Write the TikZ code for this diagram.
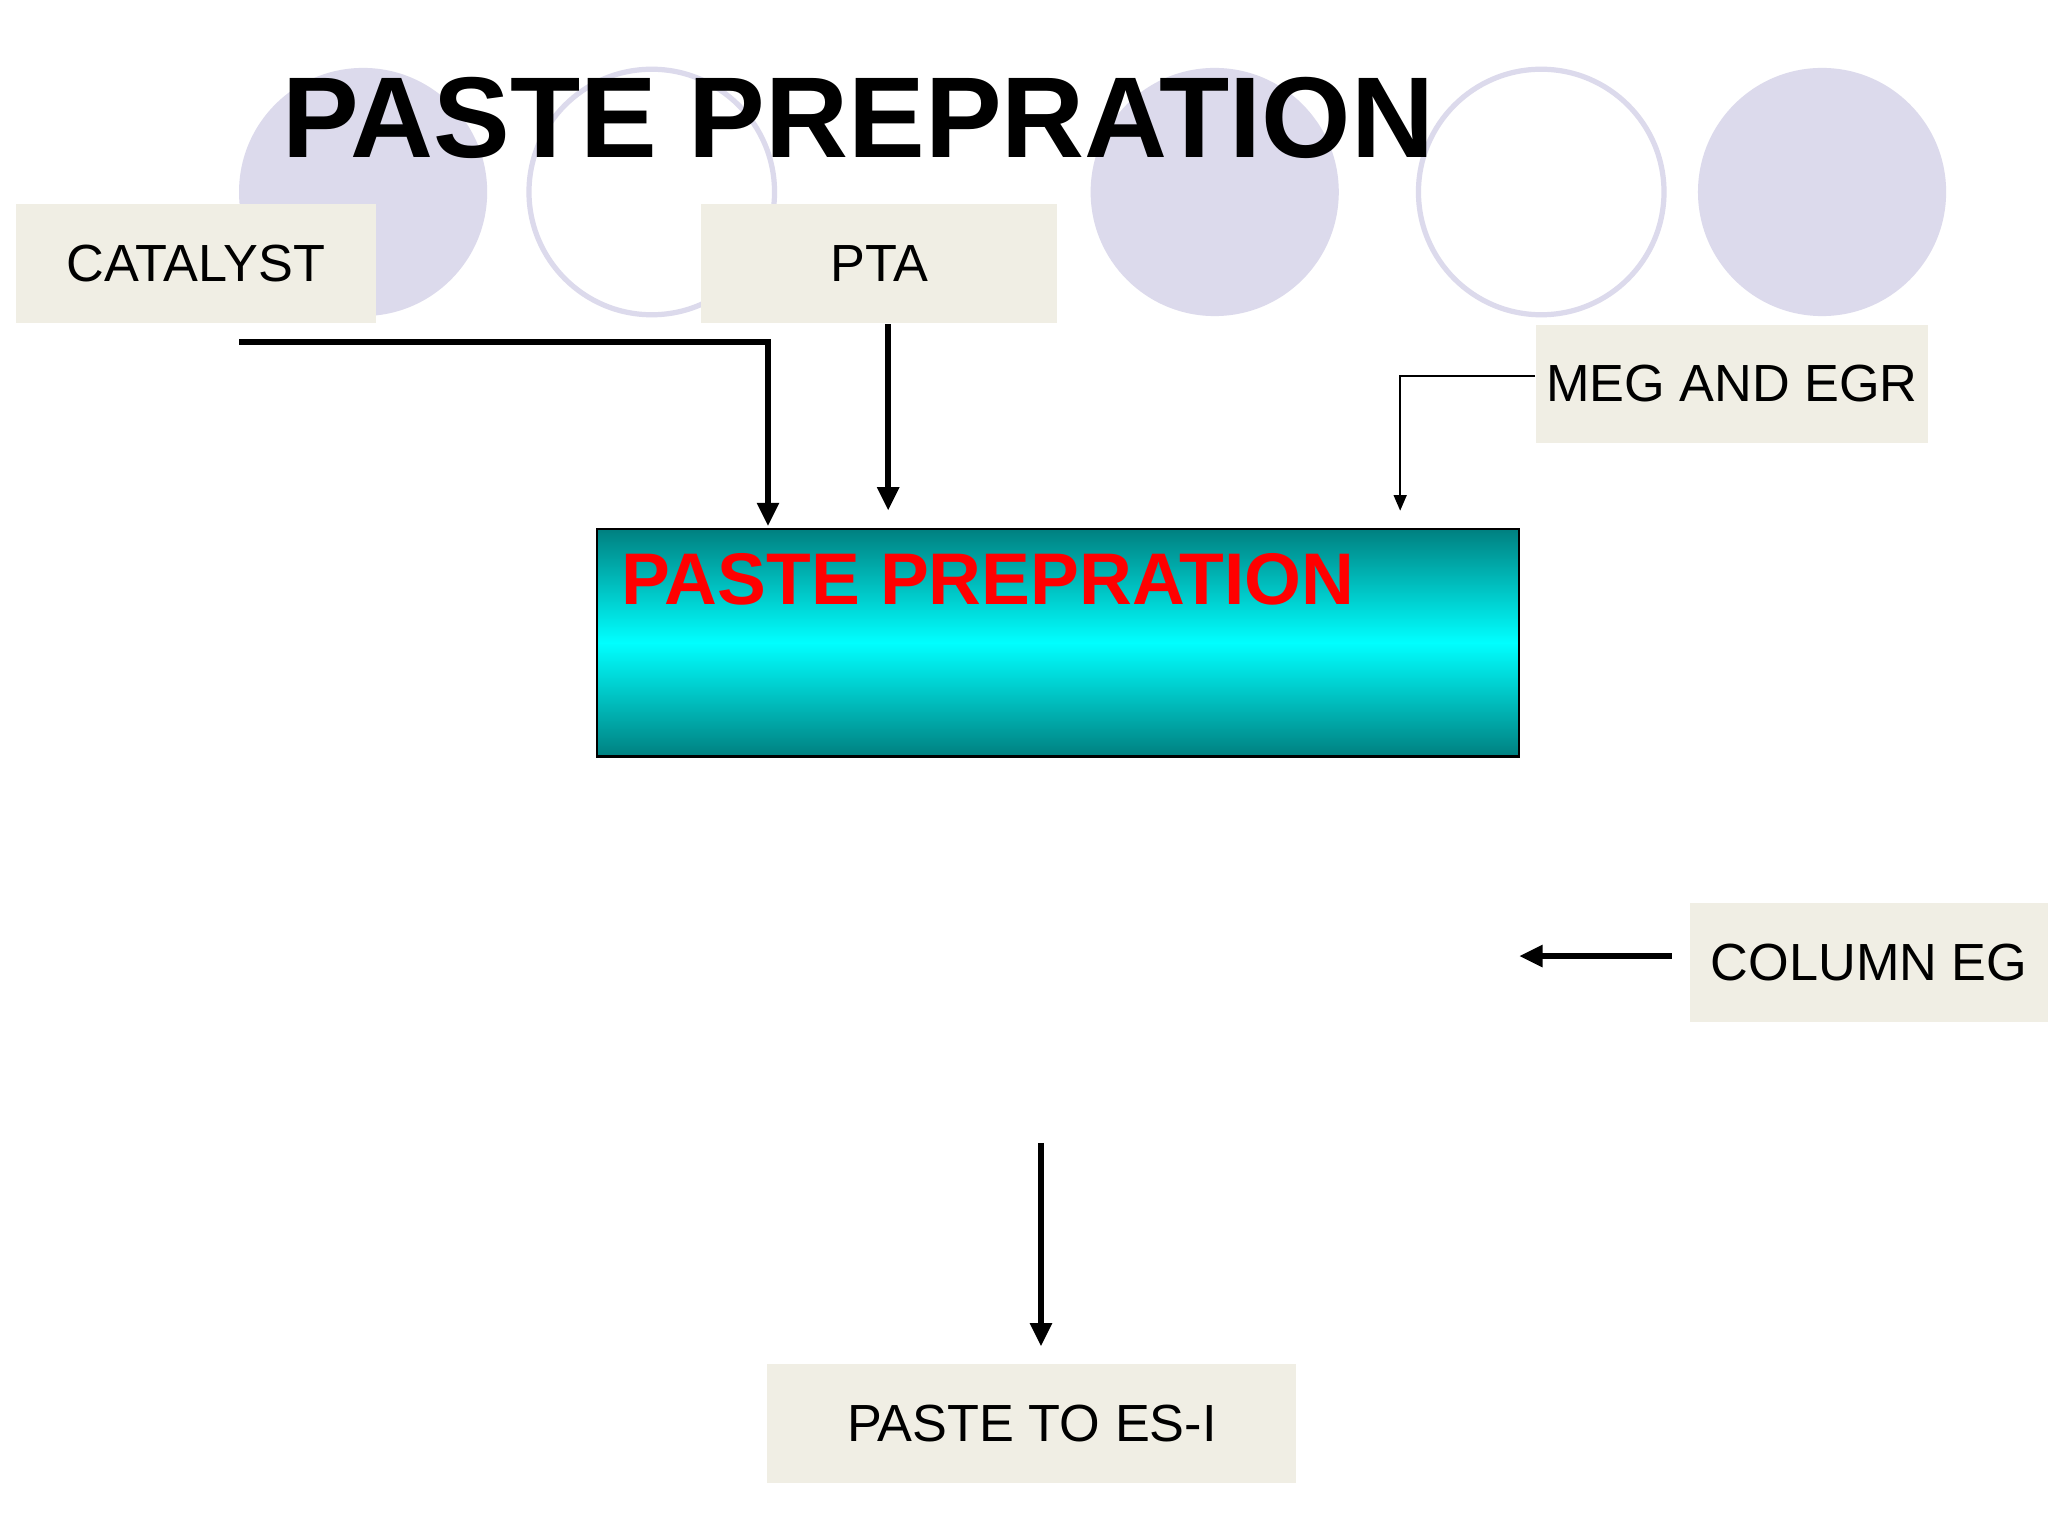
\documentclass[tikz,border=0pt]{standalone}
\usepackage{fontspec}
\setmainfont{Liberation Sans}
\usetikzlibrary{arrows.meta}
\definecolor{lavender}{RGB}{220,218,236}
\definecolor{boxfill}{RGB}{240,238,228}
\definecolor{tealdark}{RGB}{0,128,128}
\tikzset{every picture/.style={line width=0.75pt}}
\begin{document}
\begin{tikzpicture}[x=0.5pt,y=-0.5pt,
  label box/.style={fill=boxfill, draw=none, minimum height=45.5pt, font=\fontsize{20}{24}\selectfont},
  flow/.style={line width=2.5pt, -{Triangle[length=9pt,width=8pt]}},
  thin flow/.style={line width=0.6pt, -{Triangle[length=6pt,width=5pt]}}]
\useasboundingbox (0,0) rectangle (1568,1176);
\fill[white] (0,0) rectangle (1568,1176);

% circles
\fill[lavender] (278,147) circle (95);
\draw[lavender, line width=2pt] (499,147) circle (94);
\fill[lavender] (930,147) circle (95);
\draw[lavender, line width=2pt] (1180,147) circle (94);
\fill[lavender] (1395,147) circle (95);

% title
\node (title) at (657,90) {\fontsize{44}{50}\selectfont\bfseries PASTE PREPRATION};

% boxes
\node[label box, minimum width=137.5pt] (catalyst) at (150,202) {CATALYST};
\node[label box, minimum width=136.5pt] (pta) at (673,202) {PTA};
\node[label box, minimum width=150pt] (meg) at (1326,294) {MEG AND EGR};
\node[label box, minimum width=137pt] (column) at (1431,737) {COLUMN EG};
\node[label box, minimum width=202.5pt] (paste) at (790,1090) {PASTE TO ES-I};

% main box
\shade[top color=tealdark, bottom color=tealdark, middle color=cyan] (457,405) rectangle (1163,579);
\draw[line width=1pt] (457,405) rectangle (1163,579);
\node[anchor=base west, text=red, inner sep=0pt] (main) at (475,463) {\fontsize{28}{32}\selectfont\bfseries PASTE PREPRATION};

% connectors
\coordinate (c1) at (183,262);
\coordinate (c2) at (588,262);
\coordinate (c3) at (588,403);
\draw[flow] (c1) -- (c2) -- (c3);
\draw[flow] (pta.south -| 680,0) -- (680,391);
\coordinate (m1) at (1072,288);
\draw[thin flow] (meg.west |- m1) -- (m1) -- (1072,391);
\draw[flow] (1280,732) -- (1163,732);
\coordinate (p1) at (797,875);
\draw[flow] (p1) -- (797,1031);
\end{tikzpicture}
\end{document}
